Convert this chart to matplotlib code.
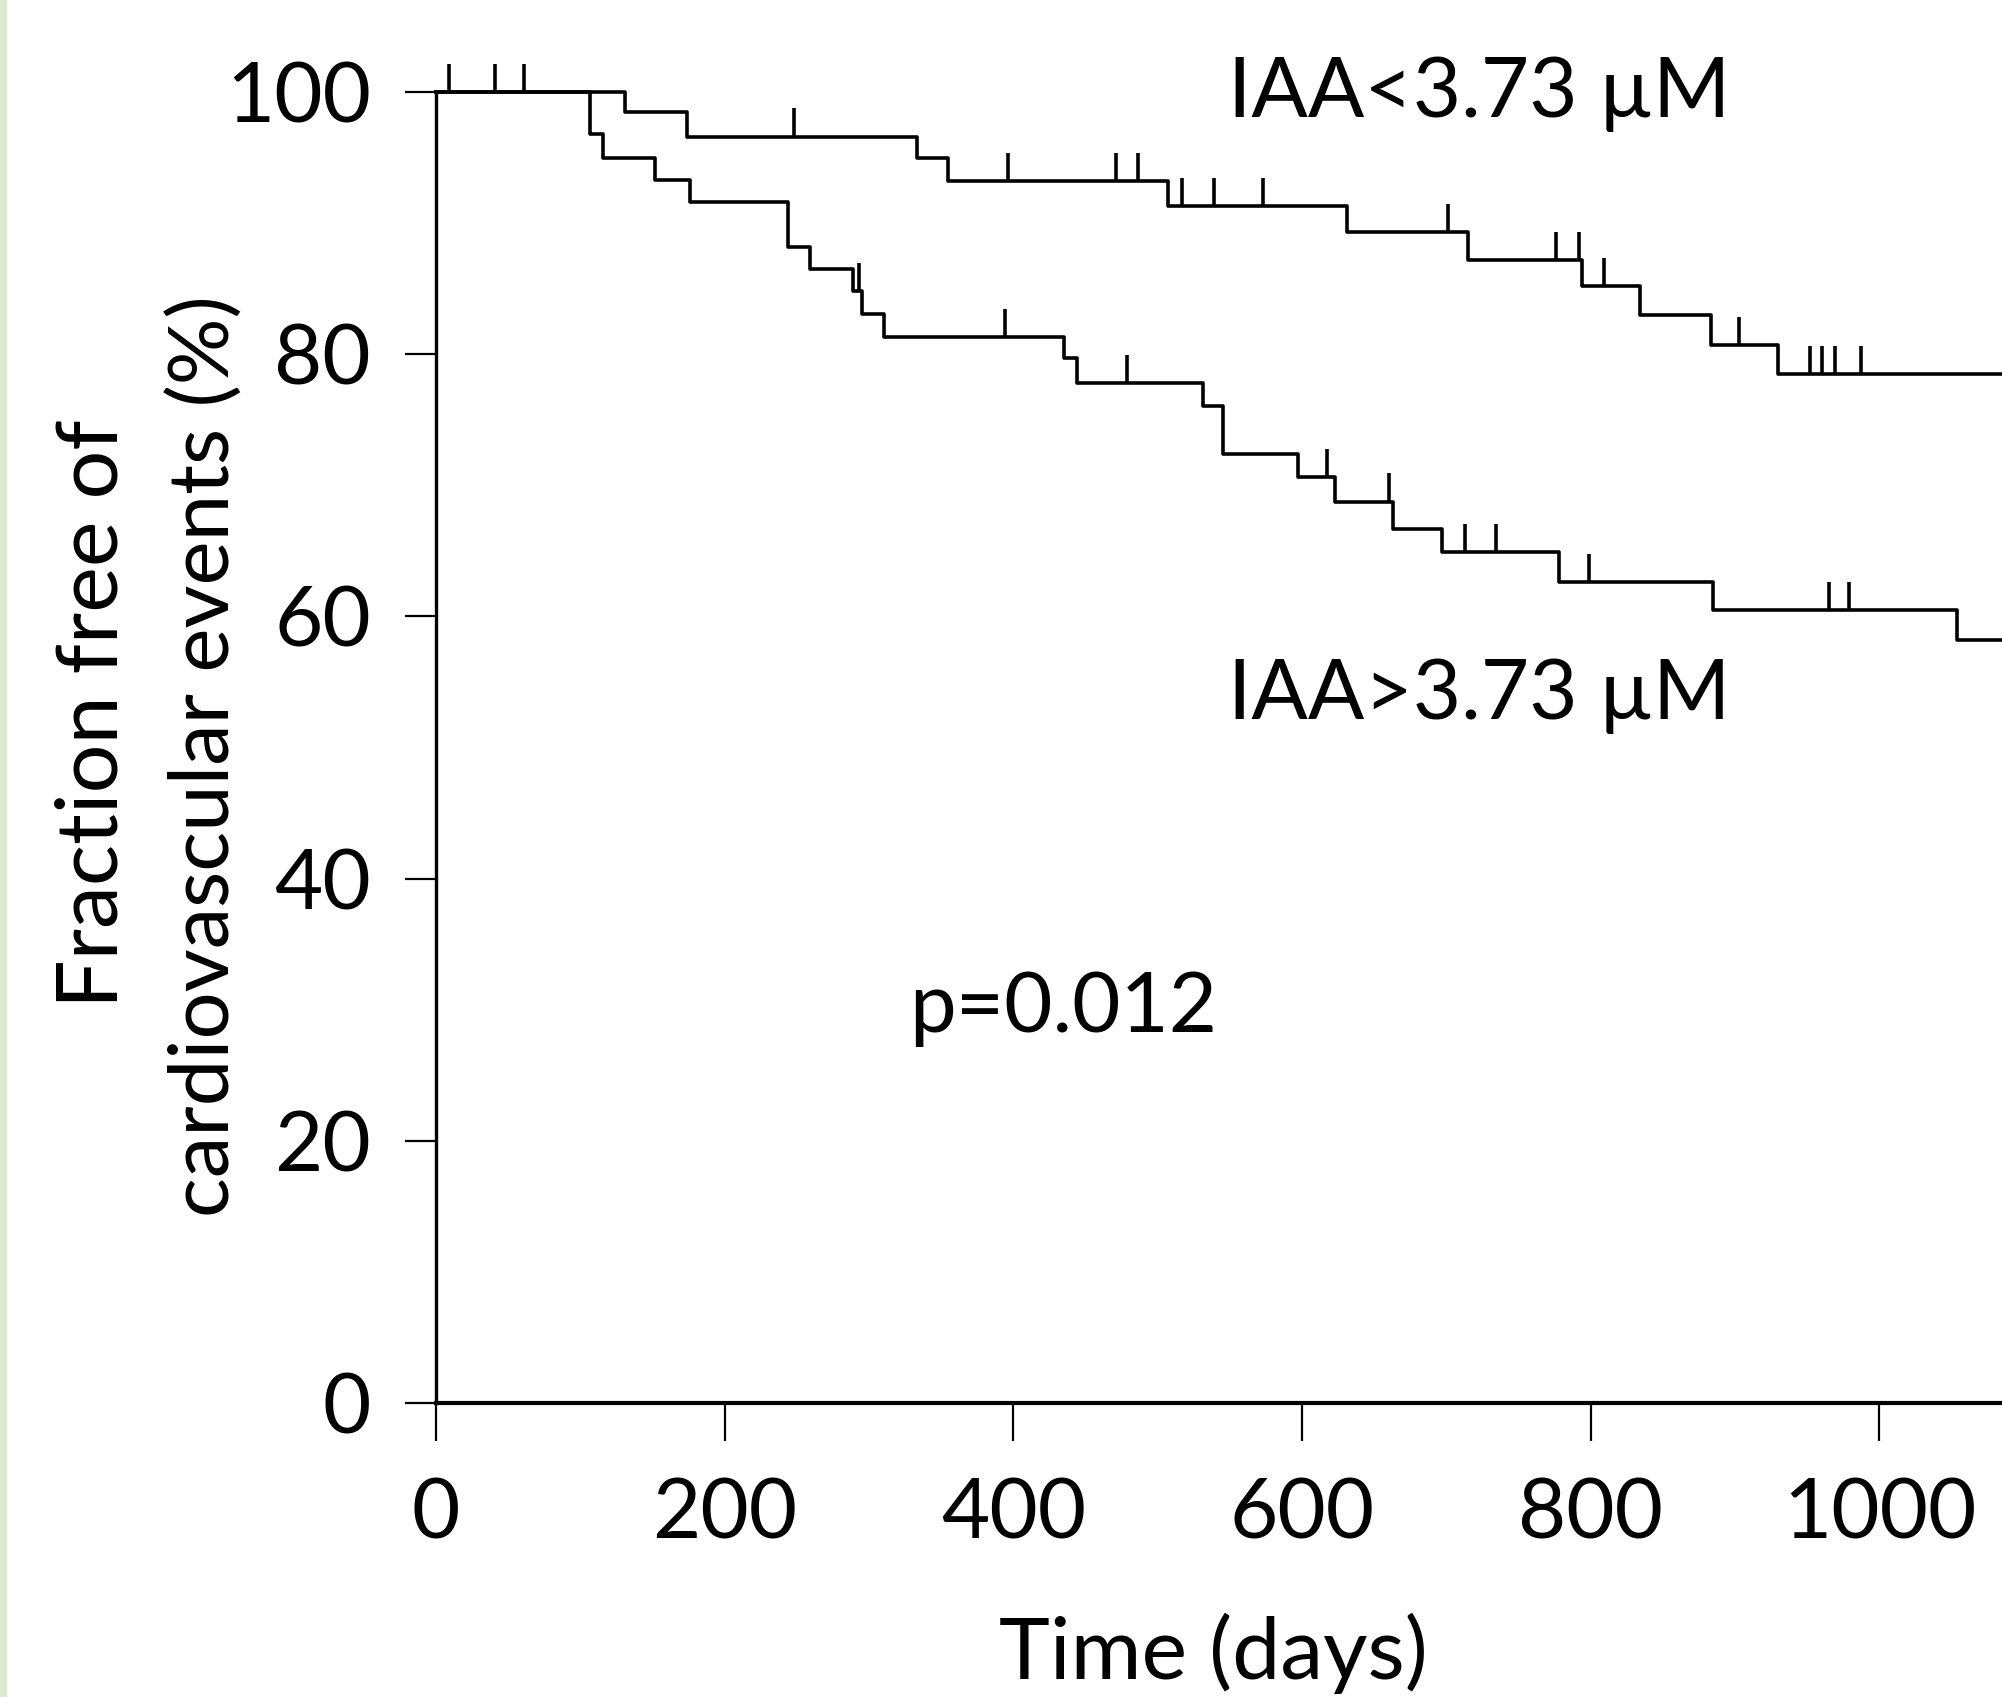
import numpy as np
import matplotlib.pyplot as plt
from matplotlib.patches import Rectangle

plt.rcParams['font.family'] = ['Lato', 'DejaVu Sans']

# IAA < 3.73 uM : step times (days) and survival (%) after each step
low_t = [0, 131, 174, 333, 355, 507, 631, 715, 794, 834, 883, 930, 1100]
low_s = [100, 98.45, 96.6, 95.0, 93.2, 91.3, 89.3, 87.2, 85.2, 83.0, 80.7, 78.5, 78.5]
low_cens = [9, 41, 61, 248, 396, 471, 486, 517, 539, 573, 701, 776, 792,
            809, 903, 952, 960, 969, 987]

# IAA > 3.73 uM
high_t = [0, 107, 116, 152, 176, 244, 259, 289, 295, 310, 435, 444, 531, 545,
          597, 623, 663, 697, 778, 885, 1054, 1100]
high_s = [100, 96.8, 95.0, 93.3, 91.6, 88.2, 86.5, 84.8, 83.1, 81.3, 79.7, 77.8,
          76.05, 72.4, 70.6, 68.75, 66.7, 64.9, 62.6, 60.5, 58.2, 58.2]
high_cens = [293, 394, 479, 617, 660, 713, 734, 799, 965, 979]

x_ticks = [0, 200, 400, 600, 800, 1000]
y_ticks = [0, 20, 40, 60, 80, 100]

fig = plt.figure(figsize=(20.02, 16.97), dpi=100)
ax = fig.add_axes([0.2178, 0.1733, 0.8652, 0.7725])

lw = 2.6
tick_h = 2.15
for t, s, cens in [(low_t, low_s, low_cens), (high_t, high_s, high_cens)]:
    ax.step(t, s, where='post', color='black', lw=lw, clip_on=False)
    t_arr = np.array(t)
    lvl = np.array(s)[np.searchsorted(t_arr, cens, side='right') - 1]
    ax.vlines(cens, lvl, lvl + tick_h, colors='black', lw=lw, clip_on=False)

ax.set_xlim(0, 1200)
ax.set_ylim(0, 100)
ax.set_xticks(x_ticks)
ax.set_yticks(y_ticks)
ax.tick_params(axis='both', labelsize=60, color='black', width=1.6)
ax.tick_params(axis='y', length=22, pad=25)
ax.tick_params(axis='x', length=27, pad=27)

for side in ['top', 'right']:
    ax.spines[side].set_visible(False)
ax.spines['left'].set_linewidth(2.4)
ax.spines['bottom'].set_linewidth(3.0)

ax.text(549, 98.1, 'IAA<3.73 µM', fontsize=60, ha='left', va='baseline')
ax.text(549, 52.2, 'IAA>3.73 µM', fontsize=60, ha='left', va='baseline')
ax.text(328, 28.3, 'p=0.012', fontsize=60, ha='left', va='baseline')

fig.text(0.606, 0.0106, 'Time (days)', fontsize=62, ha='center', va='baseline')
fig.text(117.5 / 2002, 1 - 714 / 1697, 'Fraction free of', fontsize=62,
         rotation=90, rotation_mode='anchor', ha='center', va='baseline')
fig.text(230 / 2002, 1 - 756 / 1697, 'cardiovascular events (%)', fontsize=60,
         rotation=90, rotation_mode='anchor', ha='center', va='baseline')

# thin pale green strip on the left edge
fig.patches.append(Rectangle((0, 0), 7 / 2002, 1, transform=fig.transFigure,
                             facecolor='#dfe8d0', edgecolor='none'))

fig.savefig('out.png', dpi=100)
